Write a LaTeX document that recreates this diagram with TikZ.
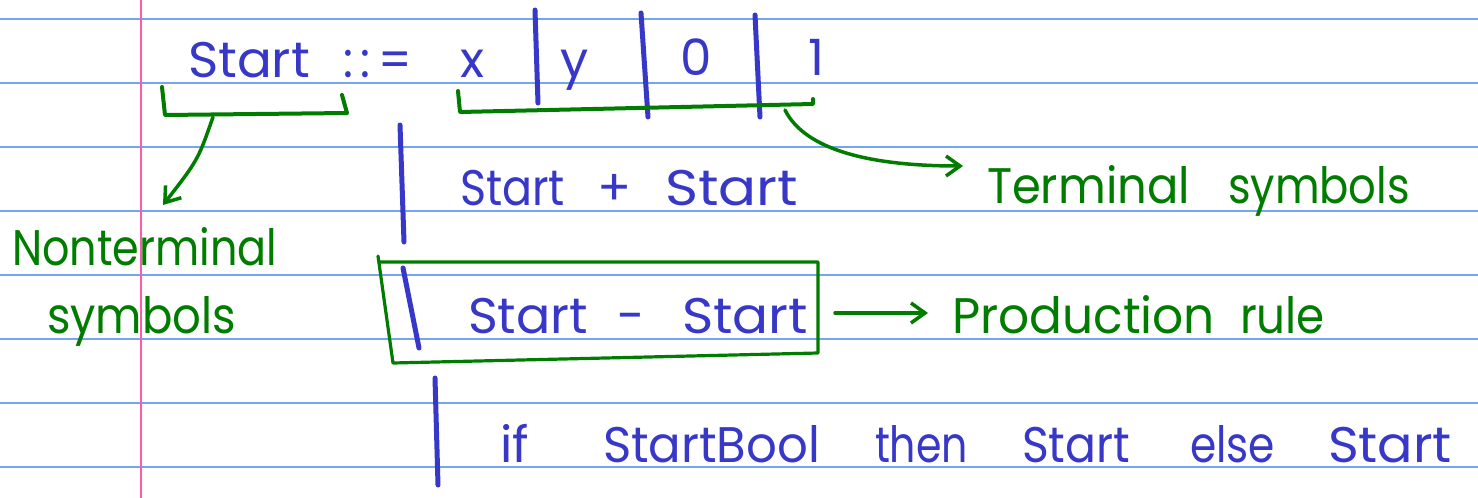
\documentclass[tikz,border=0pt]{standalone}
\usepackage{fontspec}
\setmainfont{Poppins}
\usetikzlibrary{arrows.meta}
\definecolor{ink}{RGB}{55,55,200}
\definecolor{pen}{RGB}{0,125,0}
\definecolor{ruleblue}{RGB}{115,165,240}
\definecolor{marginpink}{RGB}{255,90,170}
\newcommand\fitw[2]{\resizebox{#1}{\height}{#2}}
\begin{document}
\begin{tikzpicture}[x=1pt,y=-1pt,
  every node/.style={inner sep=0pt,outer sep=0pt,anchor=base west,font=\fontsize{50}{50}\selectfont},
  bl/.style={text=ink},
  gr/.style={text=pen},
  inkline/.style={draw=ink,line width=5pt,line cap=round},
  penline/.style={draw=pen,line width=4pt,line cap=round,line join=round},
  tip/.style={-{Straight Barb[length=14pt,width=20pt]}}]
\fill[white] (0,0) rectangle (1478,498);
\useasboundingbox (0,0) rectangle (1478,498);
% ruled paper
\foreach \y in {19,83,147,211,275,339,403,467}
  \draw[ruleblue,line width=2pt] (0,\y) -- (1478,\y);
\draw[marginpink,line width=2.2pt] (141,0) -- (141,498);

% row 1
\node[bl] (s0) at (188,77) {\fitw{122pt}{Start}};
\node[bl] (def) at (343,77) {\fitw{69pt}{:\,:\,=}};
\node[bl] (tx) at (460,77) {x};
\node[bl] (ty) at (560,77) {y};
\node[bl] (t0) at (680,75) {0};
\node[bl] (t1) at (808,75) {1};
\draw[inkline] (535,10) -- (538,103);
\draw[inkline] (641,13) -- (648,117);
\draw[inkline] (755,15) -- (760,117);

% row 2
\draw[inkline] (400,125) -- (404,242);
\node[bl] (a1) at (460,205) {\fitw{105pt}{Start}};
\node[bl] (plus) at (597,205) {+};
\node[bl] (a2) at (665,205) {\fitw{133pt}{Start}};

% row 3 (boxed)
\draw[inkline] (403,268) -- (419,348);
\node[bl] (b1) at (468,333) {\fitw{120pt}{Start}};
\node[bl] (minus) at (617,333) {-};
\node[bl] (b2) at (682,333) {\fitw{126pt}{Start}};
\draw[penline,line width=3.2pt] (378,256) -- (393,363) -- (818,353) -- (818,262) -- (380,262);

% row 4
\draw[inkline] (435,378) -- (438,485);
\node[bl] (c1) at (500,462) {if};
\node[bl] (c2) at (603,462) {\fitw{217pt}{StartBool}};
\node[bl] (c3) at (875,462) {\fitw{93pt}{then}};
\node[bl] (c4) at (1022,462) {\fitw{108pt}{Start}};
\node[bl] (c5) at (1190,462) {\fitw{85pt}{else}};
\node[bl] (c6) at (1328,462) {\fitw{124pt}{Start}};

% annotations
\node[gr] (term1) at (987,203) {\fitw{203pt}{Terminal}};
\node[gr] (term2) at (1228,203) {\fitw{182pt}{symbols}};
\node[gr] (prod1) at (952,333) {\fitw{263pt}{Production}};
\node[gr] (prod2) at (1240,333) {\fitw{85pt}{rule}};
\node[gr] (non1) at (12,265) {\fitw{265pt}{Nonterminal}};
\node[gr] (non2) at (47,333) {\fitw{189pt}{symbols}};

% brackets
\draw[penline] (458,91) -- (460,112) -- (813,104) -- (813,99);
\draw[penline] (162,87) -- (165,115) -- (347,113) -- (342,95);

% arrows
\coordinate (tbr) at (785,110);
\coordinate (ttip) at (963,166);
\draw[penline,line width=3.5pt,tip] (tbr) .. controls (805,150) and (870,166) .. (ttip);
\coordinate (nbr) at (213,117);
\coordinate (ntip) at (163,205);
\draw[penline,line width=3.5pt,tip] (nbr) .. controls (198,160) .. (ntip);
\coordinate (boxE) at (835,313);
\coordinate (ptip) at (928,313);
\draw[penline,line width=3.5pt,tip] (boxE) -- (ptip);
\end{tikzpicture}
\end{document}
